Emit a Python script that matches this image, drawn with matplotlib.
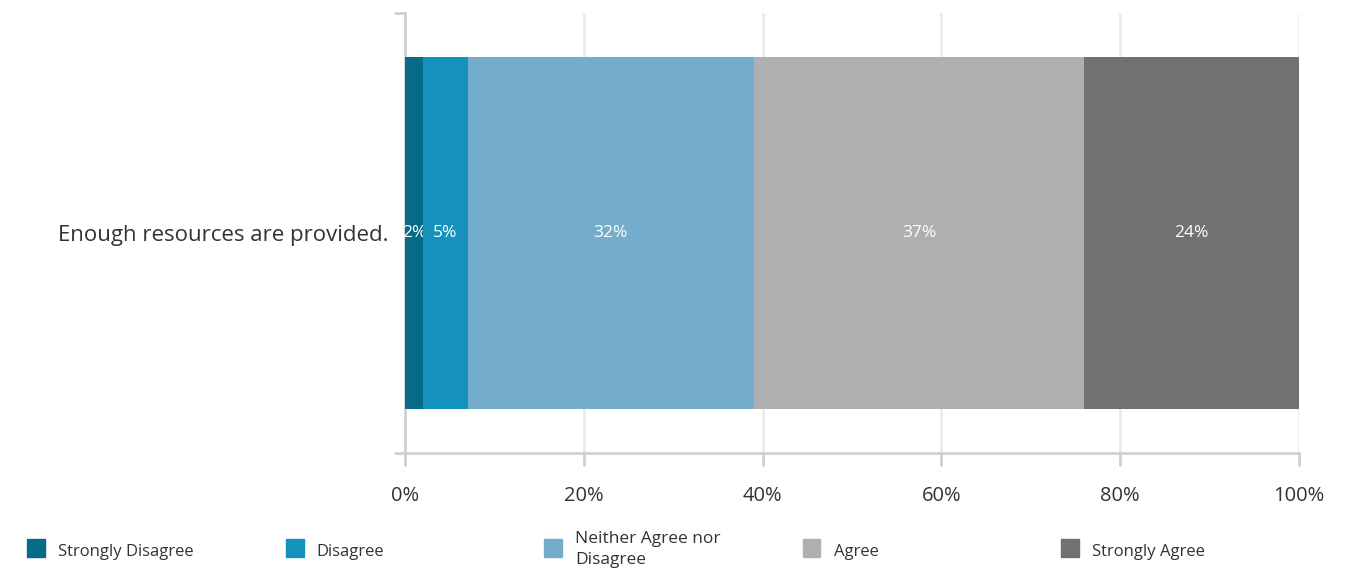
import matplotlib.pyplot as plt
from matplotlib.patches import Rectangle

plt.rcParams['font.family'] = ['Open Sans', 'DejaVu Sans']

# data
question = ["Enough resources are provided."]
categories = ["Strongly Disagree", "Disagree", "Neither Agree nor\nDisagree", "Agree", "Strongly Agree"]
values = [2, 5, 32, 37, 24]
colors = ["#056b86", "#1592bb", "#74adcc", "#aeafb1", "#717171"]
xticks = [0, 20, 40, 60, 80, 100]

fig = plt.figure(figsize=(13.46, 5.69), dpi=100)
ax = fig.add_axes([405/1346, 1-453/569, 894/1346, 440/569])

left = 0
for cat, val, col in zip(categories, values, colors):
    bars = ax.barh([0], [val], left=left, height=0.8, color=col, zorder=3)
    ax.bar_label(bars, labels=[f"{val}%"], label_type='center', color='white', fontsize=12.5)
    left += val

ax.set_xlim(0, 100)
ax.set_ylim(-0.5, 0.5)
ax.set_xticks(xticks)
ax.set_xticklabels([f"{t}%" for t in xticks], fontsize=14.5, color='#333333')
ax.set_yticks([0])
ax.set_yticklabels(question, fontsize=16, color='#333333')
ax.set_yticks([-0.5, 0.5], minor=True)

ax.tick_params(axis='x', length=9, width=2, color='#d0d0d0', pad=15)
ax.tick_params(axis='y', which='major', length=0, pad=12)
ax.tick_params(axis='y', which='minor', length=8, width=2, color='#d0d0d0')

ax.grid(axis='x', color='#ebebeb', linewidth=2, zorder=0)
for s in ['top', 'right']:
    ax.spines[s].set_visible(False)
for s in ['left', 'bottom']:
    ax.spines[s].set_color('#d0d0d0')
    ax.spines[s].set_linewidth(2)

# legend
for i, (cat, col) in enumerate(zip(categories, colors)):
    x0 = 27 + i * 258.5
    fig.add_artist(Rectangle((x0/1346, 1-557/569), 18/1346, 18/569,
                             transform=fig.transFigure, color=col))
    if '\n' in cat:
        fig.text((x0+31)/1346, 1-531/569, cat, fontsize=12.5, color='#333333',
                 va='top', linespacing=1.45)
    else:
        fig.text((x0+31)/1346, 1-552/569, cat, fontsize=12, color='#333333', va='center')

plt.savefig("out.png", dpi=100)
